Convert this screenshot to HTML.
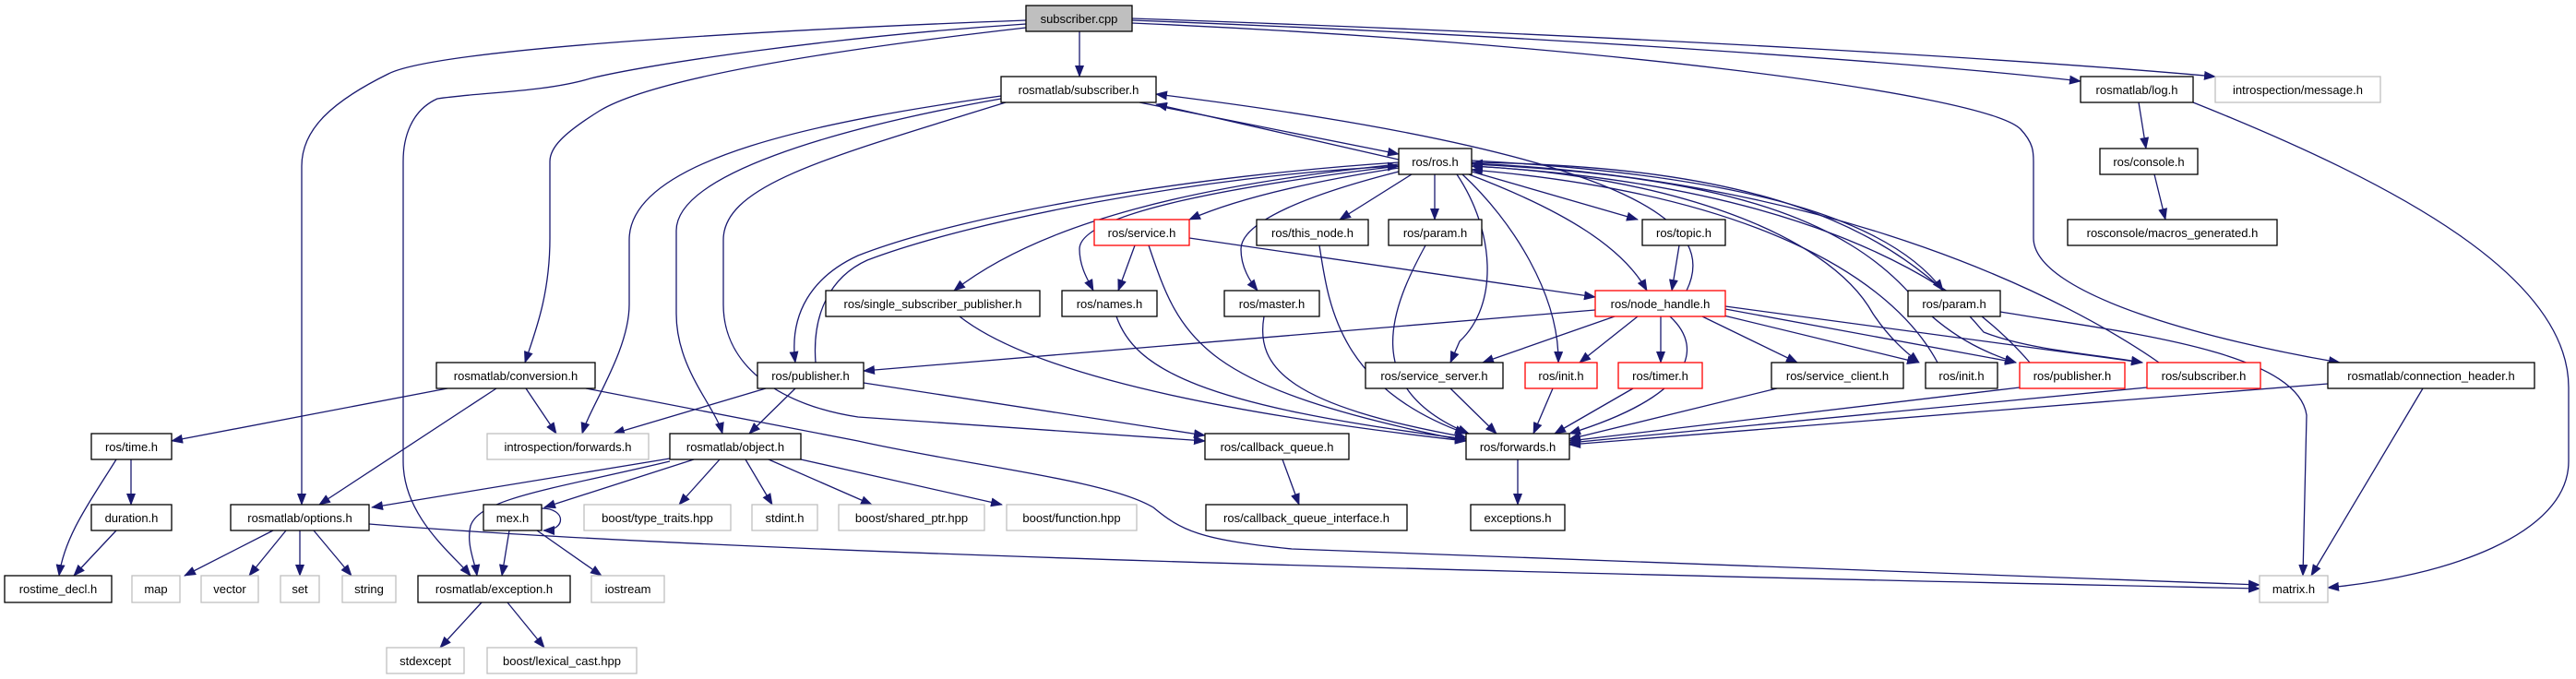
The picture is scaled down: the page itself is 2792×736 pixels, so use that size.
<!DOCTYPE html>
<html><head><meta charset="utf-8"><style>
html,body{margin:0;padding:0;background:#fff;}
svg{display:block;}
text{font-family:"Liberation Sans","DejaVu Sans",sans-serif;font-size:13px;fill:#000;text-anchor:middle;}
.e{fill:none;stroke:#191970;stroke-width:1.3;marker-end:url(#a);}
.n{fill:#fff;stroke:#000;stroke-width:1.3;}
.r{fill:#fff;stroke:#ff0000;stroke-width:1.3;}
.g{fill:#fff;stroke:#bfbfbf;stroke-width:1.3;}
</style></head><body>
<svg width="2792" height="736" viewBox="0 0 2792 736" xmlns="http://www.w3.org/2000/svg">
<defs><marker id="a" markerUnits="userSpaceOnUse" markerWidth="14" markerHeight="10" refX="12" refY="5" orient="auto"><path d="M0,0 L13,5 L0,10 z" fill="#191970"/></marker></defs>
<g>
<path class="e" d="M1170,34 L1170,83"/>
<path class="e" d="M1112,22 C900,30 480,50 421,80 C360,110 327,140 327,180 L327,547"/>
<path class="e" d="M1112,26 C900,40 700,70 640,85 C590,100 520,100 474,107 C445,120 437,150 437,175 L437,500 C437,560 490,600 510,624"/>
<path class="e" d="M1112,30 C850,60 700,90 650,120 C610,145 596,160 596,175 L596,258 C596,320 580,360 569,393"/>
<path class="e" d="M1227,22 C1700,40 2100,70 2255,88"/>
<path class="e" d="M1227,20 C1800,40 2200,65 2401,83"/>
<path class="e" d="M1227,25 C1700,45 2150,100 2190,140 C2204,155 2204,165 2204,175 L2204,258 C2204,320 2400,370 2536,393"/>
<path class="e" d="M1235,111 L1516,167"/>
<path class="e" d="M1516,173 L1253,113"/>
<path class="e" d="M1085,104 C900,130 682,170 682,260 L682,330 C682,380 640,440 631,470"/>
<path class="e" d="M1085,107 C900,140 733,190 733,250 L733,340 C733,400 775,440 783,470"/>
<path class="e" d="M1090,111 C900,170 784,200 784,260 L784,330 C784,400 850,440 930,452 L1306,478"/>
<path class="e" d="M1828,315 C1860,250 1800,170 1253,102"/>
<path class="e" d="M1516,182 C1400,200 1330,220 1289,238"/>
<path class="e" d="M1516,178 C1300,200 1130,240 1034,315"/>
<path class="e" d="M1516,180 C1350,200 1170,230 1170,270 C1170,290 1180,305 1185,315"/>
<path class="e" d="M1520,185 C1420,210 1345,240 1345,270 C1345,290 1355,305 1363,315"/>
<path class="e" d="M1530,189 L1452,238"/>
<path class="e" d="M1555,189 L1555,238"/>
<path class="e" d="M1595,186 L1775,238"/>
<path class="e" d="M1592,189 C1700,230 1760,270 1785,315"/>
<path class="e" d="M1516,176 C1300,190 1050,230 930,277 C880,300 855,340 862,393"/>
<path class="e" d="M884,393 C880,340 900,300 940,282 C1050,240 1300,190 1516,180"/>
<path class="e" d="M1579,189 C1620,250 1625,330 1582,370 L1572,393"/>
<path class="e" d="M1585,189 C1640,240 1690,320 1689,393"/>
<path class="e" d="M1595,180 C1800,190 1980,250 2030,340 C2050,370 2070,385 2080,393"/>
<path class="e" d="M1595,178 C1850,190 2000,230 2080,330 C2120,370 2160,385 2185,393"/>
<path class="e" d="M1595,176 C1900,180 2050,240 2150,360 C2200,380 2280,385 2322,393"/>
<path class="e" d="M1595,174 C1900,190 2050,240 2106,315"/>
<path class="e" d="M2100,393 C2050,300 1900,210 1595,184"/>
<path class="e" d="M2200,393 C2120,300 1950,200 1595,180"/>
<path class="e" d="M2340,393 C2250,330 2000,195 1595,177"/>
<path class="e" d="M1230,266 L1212,315"/>
<path class="e" d="M1245,266 C1280,370 1300,420 1589,478"/>
<path class="e" d="M1289,258 L1729,322"/>
<path class="e" d="M1040,343 C1100,390 1250,440 1589,478"/>
<path class="e" d="M1210,343 C1230,400 1300,440 1589,476"/>
<path class="e" d="M1370,343 C1360,400 1400,440 1589,474"/>
<path class="e" d="M1430,266 C1440,330 1450,420 1589,470"/>
<path class="e" d="M1545,266 C1510,330 1470,420 1592,470"/>
<path class="e" d="M1820,266 L1812,315"/>
<path class="e" d="M1729,336 L936,402"/>
<path class="e" d="M1750,343 L1607,393"/>
<path class="e" d="M1775,343 L1712,393"/>
<path class="e" d="M1800,343 L1800,393"/>
<path class="e" d="M1810,343 C1850,380 1830,430 1701,470"/>
<path class="e" d="M1845,343 L1948,393"/>
<path class="e" d="M1860,340 L2079,393"/>
<path class="e" d="M1870,335 L2185,393"/>
<path class="e" d="M1870,332 L2322,393"/>
<path class="e" d="M1572,421 L1622,470"/>
<path class="e" d="M1683,421 L1662,470"/>
<path class="e" d="M1770,421 L1685,470"/>
<path class="e" d="M1926,421 L1701,476"/>
<path class="e" d="M2189,420 L1701,478"/>
<path class="e" d="M2327,420 L1701,480"/>
<path class="e" d="M2523,416 L1701,482"/>
<path class="e" d="M2626,421 L2505,624"/>
<path class="e" d="M2168,338 C2300,360 2490,380 2500,450 L2496,624"/>
<path class="e" d="M2377,111 C2600,200 2784,300 2784,420 L2784,500 C2784,580 2650,625 2523,637"/>
<path class="e" d="M2318,111 L2326,161"/>
<path class="e" d="M2335,189 L2347,238"/>
<path class="e" d="M830,421 L665,470"/>
<path class="e" d="M862,421 L812,470"/>
<path class="e" d="M936,415 L1306,472"/>
<path class="e" d="M485,421 L186,478"/>
<path class="e" d="M538,421 L346,547"/>
<path class="e" d="M570,421 L603,470"/>
<path class="e" d="M635,421 L930,478 C1050,505 1200,520 1250,550 C1280,575 1300,585 1400,595 L2449,634"/>
<path class="e" d="M400,568 C800,600 1600,620 2449,638"/>
<path class="e" d="M142,498 L142,547"/>
<path class="e" d="M126,498 C100,540 70,580 64,624"/>
<path class="e" d="M126,575 L80,624"/>
<path class="e" d="M726,497 L403,550"/>
<path class="e" d="M726,500 C600,530 520,540 510,570 C505,590 515,610 517,624"/>
<path class="e" d="M752,498 L590,550"/>
<path class="e" d="M780,498 L736,547"/>
<path class="e" d="M808,498 L837,547"/>
<path class="e" d="M833,498 L945,547"/>
<path class="e" d="M868,498 L1086,547"/>
<path class="e" d="M587,551 C614,551 614,575 589,575"/>
<path class="e" d="M552,575 L544,624"/>
<path class="e" d="M582,575 L652,624"/>
<path class="e" d="M296,575 L200,624"/>
<path class="e" d="M310,575 L270,624"/>
<path class="e" d="M325,575 L325,624"/>
<path class="e" d="M340,575 L381,624"/>
<path class="e" d="M522,653 L477,702"/>
<path class="e" d="M550,653 L590,702"/>
<path class="e" d="M1390,498 L1408,547"/>
<path class="e" d="M1645,498 L1645,547"/>
</g>
<g>
<rect x="1112" y="6" width="115" height="28" fill="#bfbfbf" stroke="#000" stroke-width="1.3"/><text x="1169.5" y="25">subscriber.cpp</text>
<rect class="n" x="1085" y="83" width="168" height="28"/><text x="1169" y="102">rosmatlab/subscriber.h</text>
<rect class="n" x="2255" y="83" width="122" height="28"/><text x="2316" y="102">rosmatlab/log.h</text>
<rect class="g" x="2401" y="83" width="179" height="28"/><text x="2490.5" y="102">introspection/message.h</text>
<rect class="n" x="1516" y="161" width="79" height="28"/><text x="1555.5" y="180">ros/ros.h</text>
<rect class="n" x="2276" y="161" width="106" height="28"/><text x="2329" y="180">ros/console.h</text>
<rect class="r" x="1186" y="238" width="103" height="28"/><text x="1237.5" y="257">ros/service.h</text>
<rect class="n" x="1362" y="238" width="121" height="28"/><text x="1422.5" y="257">ros/this_node.h</text>
<rect class="n" x="1505" y="238" width="101" height="28"/><text x="1555.5" y="257">ros/param.h</text>
<rect class="n" x="1780" y="238" width="90" height="28"/><text x="1825" y="257">ros/topic.h</text>
<rect class="n" x="2241" y="238" width="227" height="28"/><text x="2354.5" y="257">rosconsole/macros_generated.h</text>
<rect class="n" x="895" y="315" width="232" height="28"/><text x="1011" y="334">ros/single_subscriber_publisher.h</text>
<rect class="n" x="1151" y="315" width="103" height="28"/><text x="1202.5" y="334">ros/names.h</text>
<rect class="n" x="1327" y="315" width="103" height="28"/><text x="1378.5" y="334">ros/master.h</text>
<rect class="r" x="1729" y="315" width="141" height="28"/><text x="1799.5" y="334">ros/node_handle.h</text>
<rect class="n" x="2068" y="315" width="100" height="28"/><text x="2118" y="334">ros/param.h</text>
<rect class="n" x="473" y="393" width="172" height="28"/><text x="559" y="412">rosmatlab/conversion.h</text>
<rect class="n" x="821" y="393" width="115" height="28"/><text x="878.5" y="412">ros/publisher.h</text>
<rect class="n" x="1480" y="393" width="149" height="28"/><text x="1554.5" y="412">ros/service_server.h</text>
<rect class="r" x="1653" y="393" width="78" height="28"/><text x="1692" y="412">ros/init.h</text>
<rect class="r" x="1754" y="393" width="91" height="28"/><text x="1799.5" y="412">ros/timer.h</text>
<rect class="n" x="1920" y="393" width="143" height="28"/><text x="1991.5" y="412">ros/service_client.h</text>
<rect class="n" x="2087" y="393" width="78" height="28"/><text x="2126" y="412">ros/init.h</text>
<rect class="r" x="2189" y="393" width="114" height="28"/><text x="2246" y="412">ros/publisher.h</text>
<rect class="r" x="2327" y="393" width="123" height="28"/><text x="2388.5" y="412">ros/subscriber.h</text>
<rect class="n" x="2523" y="393" width="224" height="28"/><text x="2635" y="412">rosmatlab/connection_header.h</text>
<rect class="n" x="99" y="470" width="87" height="28"/><text x="142.5" y="489">ros/time.h</text>
<rect class="g" x="528" y="470" width="175" height="28"/><text x="615.5" y="489">introspection/forwards.h</text>
<rect class="n" x="726" y="470" width="142" height="28"/><text x="797" y="489">rosmatlab/object.h</text>
<rect class="n" x="1306" y="470" width="156" height="28"/><text x="1384" y="489">ros/callback_queue.h</text>
<rect class="n" x="1589" y="470" width="112" height="28"/><text x="1645" y="489">ros/forwards.h</text>
<rect class="n" x="99" y="547" width="87" height="28"/><text x="142.5" y="566">duration.h</text>
<rect class="n" x="250" y="547" width="150" height="28"/><text x="325" y="566">rosmatlab/options.h</text>
<rect class="n" x="524" y="547" width="63" height="28"/><text x="555.5" y="566">mex.h</text>
<rect class="g" x="633" y="547" width="159" height="28"/><text x="712.5" y="566">boost/type_traits.hpp</text>
<rect class="g" x="815" y="547" width="71" height="28"/><text x="850.5" y="566">stdint.h</text>
<rect class="g" x="909" y="547" width="158" height="28"/><text x="988" y="566">boost/shared_ptr.hpp</text>
<rect class="g" x="1091" y="547" width="141" height="28"/><text x="1161.5" y="566">boost/function.hpp</text>
<rect class="n" x="1307" y="547" width="218" height="28"/><text x="1416" y="566">ros/callback_queue_interface.h</text>
<rect class="n" x="1594" y="547" width="102" height="28"/><text x="1645" y="566">exceptions.h</text>
<rect class="n" x="5" y="624" width="116" height="29"/><text x="63" y="643">rostime_decl.h</text>
<rect class="g" x="143" y="624" width="52" height="29"/><text x="169" y="643">map</text>
<rect class="g" x="218" y="624" width="62" height="29"/><text x="249" y="643">vector</text>
<rect class="g" x="304" y="624" width="42" height="29"/><text x="325" y="643">set</text>
<rect class="g" x="371" y="624" width="58" height="29"/><text x="400" y="643">string</text>
<rect class="n" x="453" y="624" width="165" height="29"/><text x="535.5" y="643">rosmatlab/exception.h</text>
<rect class="g" x="641" y="624" width="79" height="29"/><text x="680.5" y="643">iostream</text>
<rect class="g" x="2449" y="624" width="74" height="29"/><text x="2486" y="643">matrix.h</text>
<rect class="g" x="419" y="702" width="84" height="28"/><text x="461" y="721">stdexcept</text>
<rect class="g" x="528" y="702" width="162" height="28"/><text x="609" y="721">boost/lexical_cast.hpp</text>
</g>
</svg>
</body></html>
